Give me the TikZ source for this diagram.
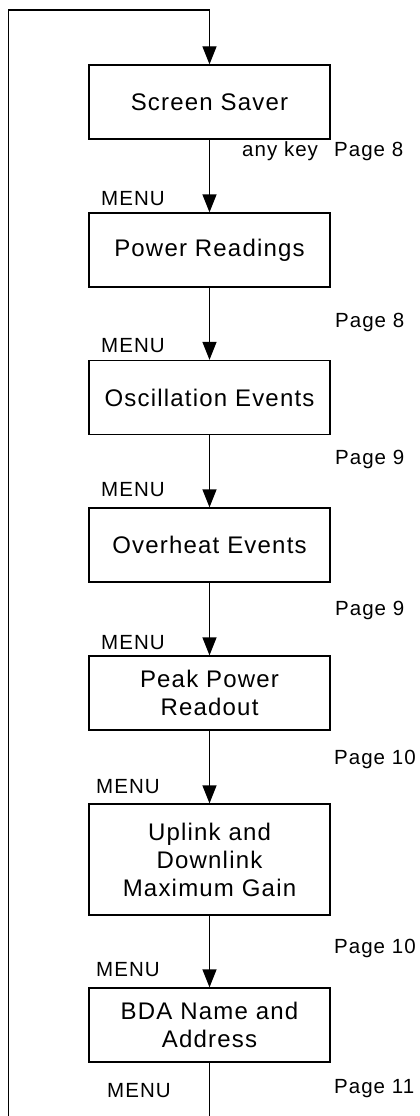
\documentclass[tikz,border=0pt]{standalone}
\usepackage{fontspec}
\setmainfont{Liberation Sans}
\newfontfamily\boxfont[LetterSpace=5]{Liberation Sans}
\newfontfamily\lblfont[LetterSpace=5]{Liberation Sans}
\usetikzlibrary{arrows.meta}
\tikzset{
  stepbox/.style={draw, line width=1.2pt, minimum width=241pt, inner sep=0pt, align=center,
    font=\boxfont\fontsize{24}{28}\selectfont},
  lbl/.style={anchor=base west, inner sep=0pt, font=\lblfont\fontsize{20.5}{24}\selectfont},
  conn/.style={line width=1.2pt},
  arr/.style={line width=1.2pt, -{Triangle[length=18pt,width=14pt]}}
}
\begin{document}
\begin{tikzpicture}[x=1pt,y=-1pt]
\useasboundingbox (0,0) rectangle (420,1116);
\node[stepbox, minimum height=74pt] (b1) at (209.5,102) {Screen Saver};
\node[stepbox, minimum height=74pt] (b2) at (209.5,250) {Power Readings};
\node[stepbox, minimum height=74pt] (b3) at (209.5,397.5) {Oscillation Events};
\node[stepbox, minimum height=74pt] (b4) at (209.5,545) {Overheat Events};
\node[stepbox, minimum height=74pt] (b5) at (209.5,693) {Peak Power\\Readout};
\node[stepbox, minimum height=111pt] (b6) at (209.5,859.5) {Uplink and\\Downlink\\Maximum Gain};
\node[stepbox, minimum height=74pt] (b7) at (209.5,1025) {BDA Name and\\Address};

\draw[arr] (b1.south) -- (b2.north);
\draw[arr] (b2.south) -- (b3.north);
\draw[arr] (b3.south) -- (b4.north);
\draw[arr] (b4.south) -- (b5.north);
\draw[arr] (b5.south) -- (b6.north);
\draw[arr] (b6.south) -- (b7.north);

\coordinate (botC) at (209.5,1116);
\coordinate (botL) at (8.5,1116);
\coordinate (topC) at (209.5,10);
\draw[conn] (b7.south) -- (botC);
\draw[arr] (botL) |- (topC) -- (b1.north);

\node[lbl] (k1) at (242,156) {any key};
\node[lbl] (p1) at (334,156) {Page 8};
\node[lbl] (m1) at (101,205) {MENU};
\node[lbl] (p2) at (335,327) {Page 8};
\node[lbl] (m2) at (101,352.7) {MENU};
\node[lbl] (p3) at (335,464) {Page 9};
\node[lbl] (m3) at (101,496) {MENU};
\node[lbl] (p4) at (335,615.7) {Page 9};
\node[lbl] (m4) at (101,649) {MENU};
\node[lbl] (p5) at (334,764) {Page 10};
\node[lbl] (m5) at (96,793) {MENU};
\node[lbl] (p6) at (334,953) {Page 10};
\node[lbl] (m6) at (96,976) {MENU};
\node[lbl] (p7) at (334,1093) {Page 11};
\node[lbl] (m7) at (107,1097) {MENU};
\end{tikzpicture}
\end{document}
